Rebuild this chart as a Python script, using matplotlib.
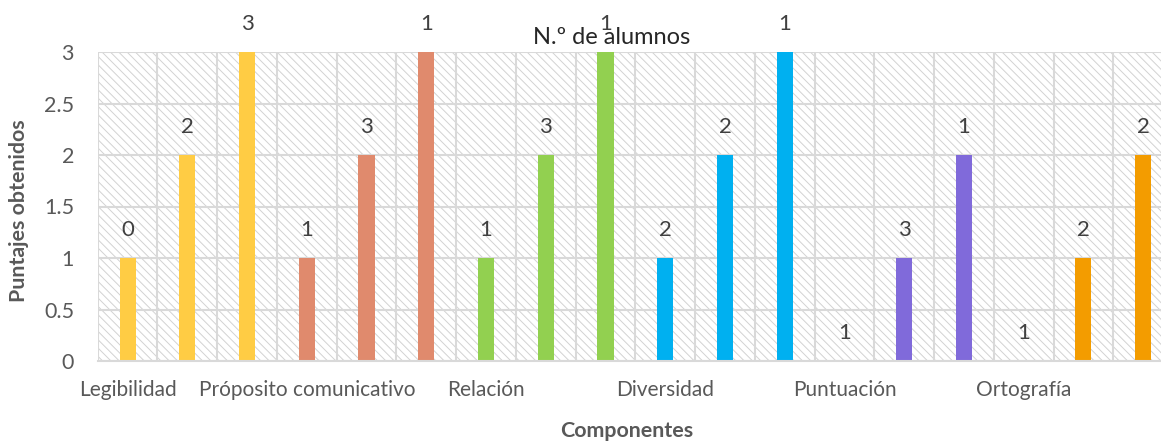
import numpy as np
import matplotlib
matplotlib.use("Agg")
import matplotlib.pyplot as plt
from matplotlib.patches import Rectangle

# ---- data ----
categorias = ['Legibilidad', 'Próposito comunicativo', 'Relación',
              'Diversidad', 'Puntuación', 'Ortografía']
puntajes = [[1, 2, 3], [1, 2, 3], [1, 2, 3], [1, 2, 3], [0, 1, 2], [0, 1, 2]]
alumnos = [[0, 2, 3], [1, 3, 1], [1, 3, 1], [2, 2, 1], [1, 3, 1], [1, 2, 2]]
colores = ['#FFCC44', '#E08A6D', '#92D050', '#00B0F0', '#806ADA', '#F39C00']
yticks = [0, 0.5, 1, 1.5, 2, 2.5, 3]
ytick_labels = ['0', '0.5', '1', '1.5', '2', '2.5', '3']

plt.rcParams['font.family'] = ['Lato', 'DejaVu Sans']
plt.rcParams['hatch.linewidth'] = 0.7

W, H = 1161, 442
fig = plt.figure(figsize=(W / 100, H / 100), dpi=100)
left, bottom_px, top_px = 97.7, 361, 52
slot = 59.74
ax = fig.add_axes([left / W, (H - bottom_px) / H, 18 * slot / W, (bottom_px - top_px) / H])

# hatched background
ax.patch.set_facecolor('white')
bg = Rectangle((0, 0), 1, 1, transform=ax.transAxes, facecolor='white',
               edgecolor='#d2d2d2', hatch='\\\\\\\\', lw=0, zorder=0.1)
ax.add_patch(bg)

heights = [v for grp in puntajes for v in grp]
labels = [v for grp in alumnos for v in grp]
cols = [colores[i] for i, grp in enumerate(puntajes) for _ in grp]
x = np.arange(len(heights))

ax.bar(x, heights, width=0.27, color=cols, zorder=2)
for xi, h, lab in zip(x, heights, labels):
    ax.annotate(str(lab), (xi, h), xytext=(0, 20), textcoords='offset points',
                ha='center', va='center', fontsize=16, color='#404040',
                annotation_clip=False)

ax.set_xlim(-0.5, len(heights) - 0.5)
ax.set_ylim(0, 3)
ax.set_yticks(yticks)
ax.set_yticklabels(ytick_labels)
ax.set_xticks(np.arange(0, len(heights), 3))
ax.set_xticklabels(categorias)
ax.set_xticks(np.arange(-0.5, len(heights), 1), minor=True)

ax.set_axisbelow(True)
ax.grid(axis='y', which='major', color='#d9d9d9', lw=1.5, zorder=0.5)
ax.grid(axis='x', which='minor', color='#d9d9d9', lw=1.5, zorder=0.5)
ax.grid(axis='x', which='major', visible=False)
for s in ax.spines.values():
    s.set_visible(False)
ax.spines['bottom'].set_visible(True)
ax.spines['bottom'].set_color('#d9d9d9')
ax.spines['bottom'].set_linewidth(1.5)

ax.tick_params(axis='both', which='both', length=0)
ax.tick_params(axis='y', labelsize=15.5, labelcolor='#595959', pad=17)
ax.tick_params(axis='x', labelsize=15, labelcolor='#595959', pad=14)

fig.text(612 / W, 1 - 38 / H, 'N.º de alumnos', ha='center', va='center',
         fontsize=17, color='#262626')
fig.text(19 / W, 1 - 211 / H, 'Puntajes obtenidos', rotation=90, ha='center',
         va='center', fontsize=15.4, fontweight='bold', color='#595959')
fig.text(627 / W, 1 - 431 / H, 'Componentes', ha='center', va='center',
         fontsize=15.4, fontweight='bold', color='#595959')

fig.savefig('out.png', dpi=100)
